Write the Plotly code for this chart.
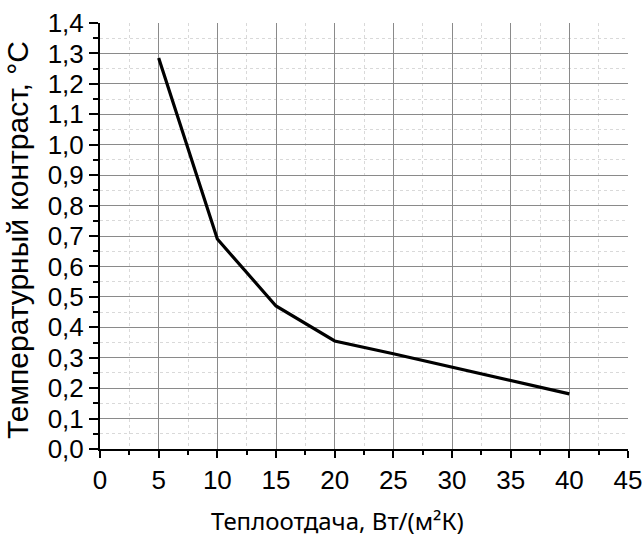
import plotly.graph_objects as go

# Heat transfer coefficient, W/(m²K)
heat_transfer = [5, 10, 15, 20, 25, 30, 35, 40]
# Temperature contrast, °C
temp_contrast = [1.285, 0.69, 0.47, 0.355, 0.313, 0.269, 0.226, 0.181]

x_ticks = [0, 5, 10, 15, 20, 25, 30, 35, 40, 45]
y_ticks = [round(0.1 * i, 1) for i in range(15)]
y_tick_text = [f"{v:.1f}".replace(".", ",") for v in y_ticks]

x_title = "Теплоотдача, Вт/(м²К)"
y_title = "Температурный контраст, °C"

tick_font = dict(family="Liberation Sans", size=26, color="black")

fig = go.Figure()
fig.add_trace(go.Scatter(
    x=heat_transfer, y=temp_contrast, mode="lines",
    line=dict(color="black", width=3.2),
    showlegend=False,
))

grid_major = "#8a8a8a"
grid_minor = "#d9d9d9"

fig.update_layout(
    width=644, height=537,
    margin=dict(l=100, r=16, t=23, b=88),
    paper_bgcolor="white", plot_bgcolor="white",
    xaxis=dict(
        range=[0, 45], tickvals=x_ticks, ticktext=[str(v) for v in x_ticks],
        automargin=False,
        showline=True, linecolor="black", linewidth=2,
        ticks="outside", ticklen=7, tickwidth=2, tickcolor="black",
        tickfont=tick_font,
        showgrid=True, gridcolor=grid_major, gridwidth=1,
        zeroline=False,
        minor=dict(dtick=2.5, tick0=0, ticks="outside", ticklen=4, tickwidth=2,
                   tickcolor="black", showgrid=True, gridcolor=grid_minor,
                   griddash="dot", gridwidth=1),
    ),
    yaxis=dict(
        range=[0, 1.4], tickvals=y_ticks, ticktext=y_tick_text,
        automargin=False,
        showline=True, linecolor="black", linewidth=2,
        ticks="outside", ticklen=9, tickwidth=2, tickcolor="black",
        tickfont=tick_font,
        showgrid=True, gridcolor=grid_major, gridwidth=1,
        zeroline=False,
        minor=dict(dtick=0.05, tick0=0, ticks="outside", ticklen=5, tickwidth=2,
                   tickcolor="black", showgrid=True, gridcolor=grid_minor,
                   griddash="dot", gridwidth=1),
    ),
    annotations=[
        # axis titles placed as free text
        dict(text=x_title, xref="paper", yref="paper", x=0.45, y=-0.168,
             xanchor="center", yanchor="middle", showarrow=False,
             font=dict(family="Noto Sans", size=24, color="black")),
        dict(text=y_title, xref="paper", yref="paper", x=-0.156, y=0.49,
             xanchor="center", yanchor="middle", showarrow=False, textangle=-90,
             font=dict(family="Liberation Sans", size=30, color="black")),
    ],
)

fig.write_html("out.html")
